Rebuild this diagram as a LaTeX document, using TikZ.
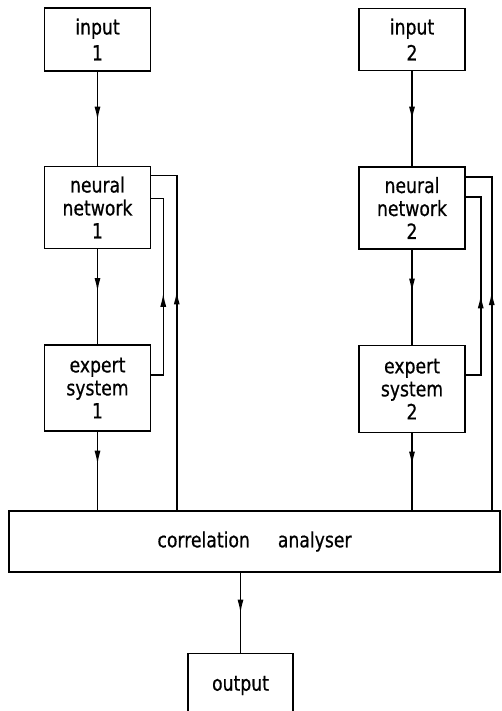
\documentclass[tikz,border=0pt]{standalone}
\usepackage{fontspec}
\setmainfont{DejaVu Sans}[FakeStretch=0.82,FakeBold=0.6]
\usetikzlibrary{arrows.meta,positioning,decorations.markings}
\tikzset{%
blk/.style={draw, line width=1.5pt, minimum width=106pt, align=center, inner sep=2pt, font=\fontsize{21}{23}\selectfont},
ln/.style={line width=1.5pt},
midarrow/.style={ln, postaction={decorate}, decoration={markings, mark=at position #1 with {\arrow{Latex[length=14pt,width=6pt]}}}},
midarrow/.default=0.5
}
\begin{document}
\begin{tikzpicture}[x=1pt, y=1pt]
		\useasboundingbox (0,0) rectangle (501,-711);
		
		% left chain
		\node[blk, minimum height=63pt] (in1) at (97.5,-39.5) {input\\[3pt]1};
		\node[blk, minimum height=82pt] (nn1) [below=94pt of in1] {neural\\network\\1};
		\node[blk, minimum height=86pt] (es1) [below=95pt of nn1] {expert\\system\\1};
		
		% right chain
		\node[blk, minimum height=62pt] (in2) [right=207pt of in1] {input\\[3pt]2};
		\node[blk, minimum height=82pt] (nn2) [below=95pt of in2] {neural\\network\\2};
		\node[blk, minimum height=87pt] (es2) [below=95pt of nn2] {expert\\system\\2};
		
		\node[blk, minimum width=491pt, minimum height=61pt] (ana) at (254.5,-541.5) {correlation\hspace{28pt}analyser};
		\node[blk, minimum width=105pt, minimum height=64pt] (out) [below=80pt of ana, xshift=-14pt] {output};
		
		\draw[midarrow=0.52] (in1) -- (nn1);
		\draw[midarrow=0.45] (nn1.south) -- (nn1.south |- es1.north);
		\draw[midarrow=0.42] (es1.south) -- (es1.south |- ana.north);
		\draw[midarrow=0.47] ([yshift=13pt]es1.east) -- ++(12,0) |- ([yshift=9pt]nn1.east);
		\draw[midarrow=0.61] ([xshift=25.5pt]nn1.east |- ana.north) |- ([yshift=32pt]nn1.east);
		
		\draw[midarrow=0.52] (in2) -- (nn2);
		\draw[midarrow=0.45] (nn2) -- (es2);
		\draw[midarrow=0.42] (es2.south) -- (es2.south |- ana.north);
		\draw[midarrow=0.46] ([yshift=14pt]es2.east) -- ++(15,0) |- ([yshift=11pt]nn2.east);
		\draw[midarrow=0.61] ([xshift=26pt]nn2.east |- ana.north) |- ([yshift=31pt]nn2.east);
		
		\draw[midarrow=0.51] (ana.south -| out.north) -- (out.north);
	\end{tikzpicture}
\end{document}
